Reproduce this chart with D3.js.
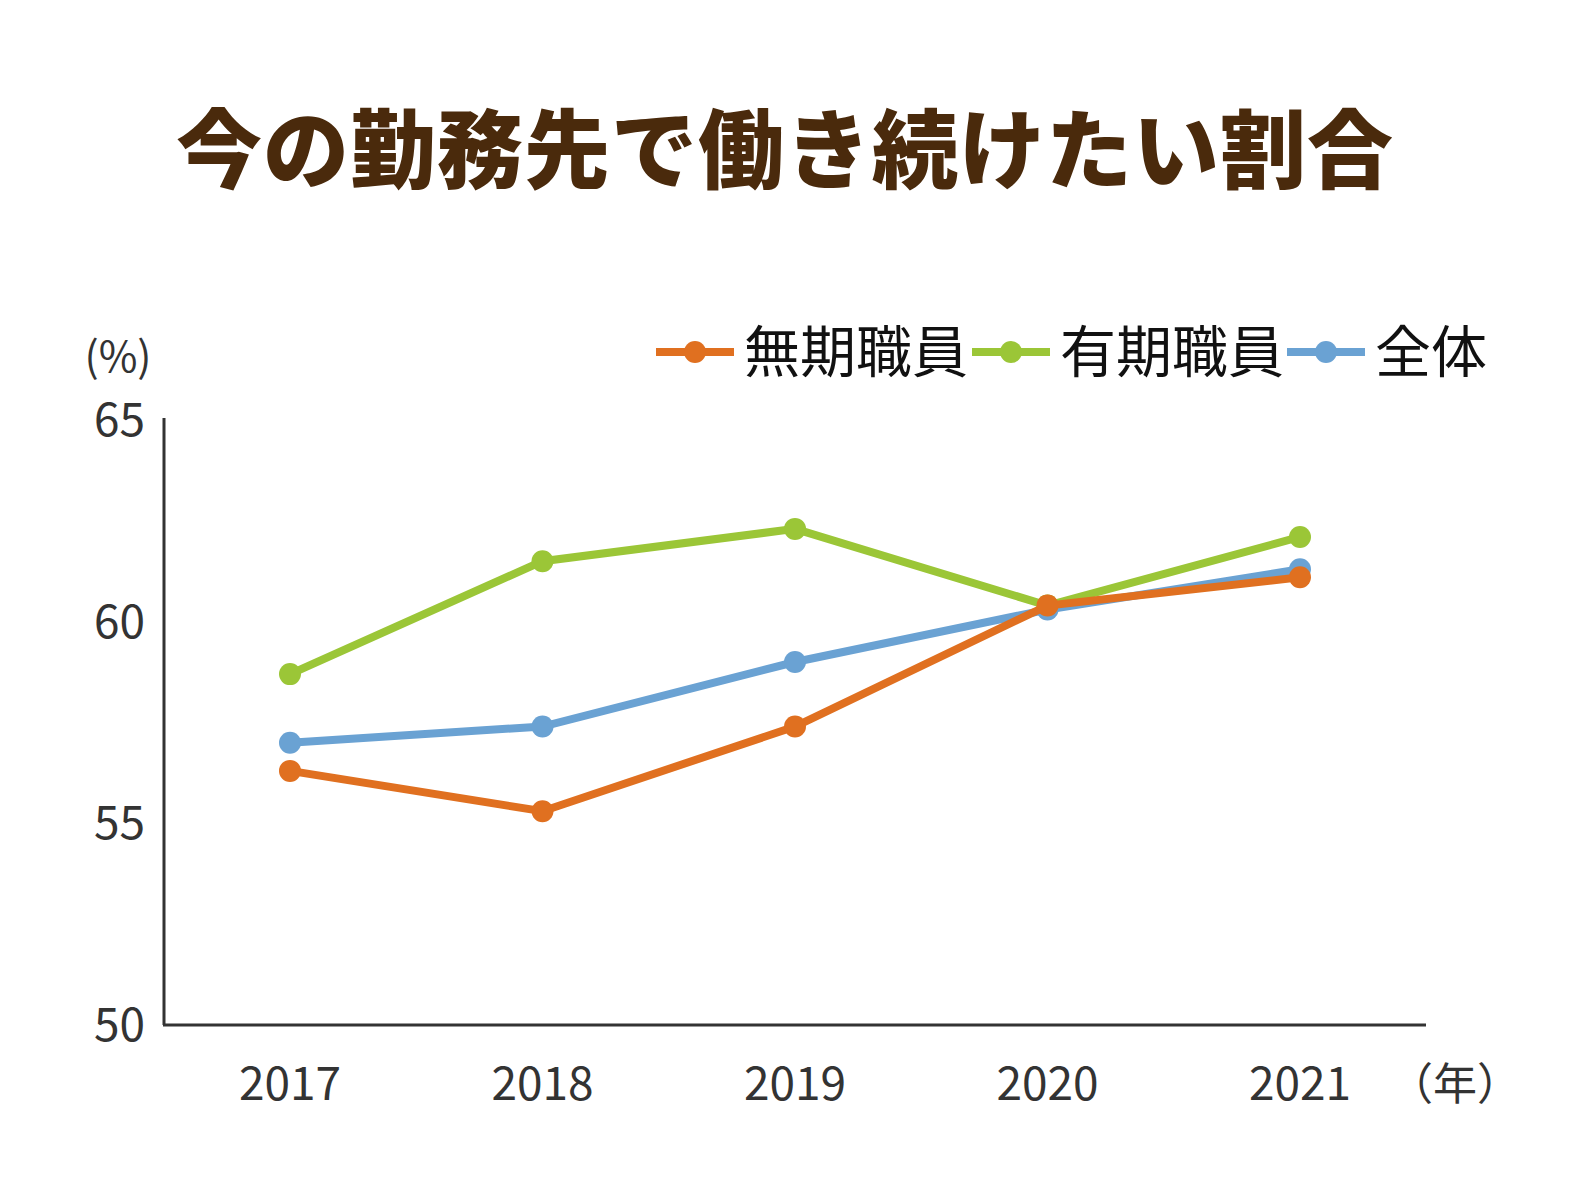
<!DOCTYPE html>
<html><head><meta charset="utf-8">
<script src="https://cdn.jsdelivr.net/npm/d3@7"></script>
<style>body{margin:0;background:#fff}</style>
</head><body>
<script>
var years = ["2017", "2018", "2019", "2020", "2021"];
var mukiValues = [56.3, 55.3, 57.4, 60.4, 61.1];
var yukiValues = [58.7, 61.5, 62.3, 60.4, 62.1];
var allValues = [57.0, 57.4, 59.0, 60.3, 61.3];
var yTicks = [50, 55, 60, 65];

var series = [
  { name: "無期職員", color: "#e07020", values: mukiValues },
  { name: "有期職員", color: "#9bc637", values: yukiValues },
  { name: "全体", color: "#6aa2d3", values: allValues }
];
// draw order: green, blue, orange on top
var drawOrder = [series[1], series[2], series[0]];

var W = 1592, H = 1194;
var svg = d3.select("body").append("svg").attr("width", W).attr("height", H)
  .style("font-family", "'Noto Sans CJK JP','Noto Sans',sans-serif");

svg.append("text").attr("x", 785).attr("y", 182).attr("text-anchor", "middle")
  .attr("font-size", 86).attr("font-weight", 900).attr("fill", "#4a2a0c")
  .attr("letter-spacing", 1)
  .text("今の勤務先で働き続けたい割合");

var x = d3.scalePoint().domain(years).range([290, 1300]);
var y = d3.scaleLinear().domain([50, 65]).range([1025, 420]);

svg.append("line").attr("x1", 164).attr("x2", 164).attr("y1", 418).attr("y2", 1025)
  .attr("stroke", "#333").attr("stroke-width", 3);
svg.append("line").attr("x1", 163).attr("x2", 1426).attr("y1", 1025).attr("y2", 1025)
  .attr("stroke", "#333").attr("stroke-width", 3);

svg.selectAll("text.yt").data(yTicks).enter().append("text")
  .attr("x", 145).attr("y", function(d) { return y(d) + 16; })
  .attr("text-anchor", "end").attr("font-size", 46).attr("fill", "#333")
  .text(function(d) { return d; });
svg.selectAll("text.xt").data(years).enter().append("text")
  .attr("x", function(d) { return x(d); }).attr("y", 1100)
  .attr("text-anchor", "middle").attr("font-size", 46).attr("fill", "#333")
  .text(function(d) { return d; });
svg.append("text").attr("x", 1455).attr("y", 1100).attr("text-anchor", "middle")
  .attr("font-size", 44).attr("fill", "#333").text("（年）");
svg.append("text").attr("x", 118).attr("y", 372).attr("text-anchor", "middle")
  .attr("font-size", 42).attr("fill", "#333").text("(%)");

var line = d3.line().x(function(d, i) { return x(years[i]); }).y(function(d) { return y(d); });
drawOrder.forEach(function(s) {
  svg.append("path").datum(s.values).attr("d", line).attr("fill", "none")
    .attr("stroke", s.color).attr("stroke-width", 8);
  svg.selectAll(null).data(s.values).enter().append("circle")
    .attr("cx", function(d, i) { return x(years[i]); })
    .attr("cy", function(d) { return y(d); })
    .attr("r", 11).attr("fill", s.color);
});

// legend
var lx = [656, 972, 1287];
series.forEach(function(s, i) {
  var g = svg.append("g").attr("transform", "translate(" + lx[i] + ",352)");
  g.append("line").attr("x1", 0).attr("x2", 78).attr("stroke", s.color).attr("stroke-width", 8);
  g.append("circle").attr("cx", 39).attr("r", 11).attr("fill", s.color);
  g.append("text").attr("x", 88).attr("y", 20).attr("font-size", 56).attr("fill", "#111").text(s.name);
});
</script>
</body></html>
